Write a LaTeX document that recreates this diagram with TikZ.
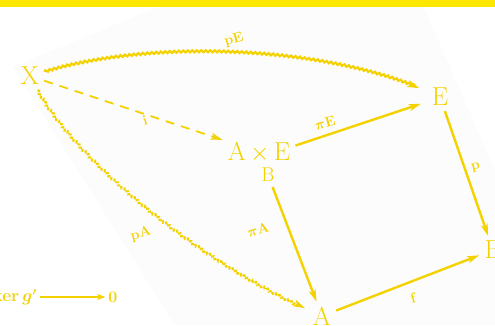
\documentclass[tikz,border=0pt]{standalone}
\usepackage{tikz}
\usetikzlibrary{arrows.meta,decorations.pathmorphing}
\definecolor{PageInk}{HTML}{F4D200}
\definecolor{PageBand}{HTML}{FFE800}
\definecolor{PageShade}{HTML}{FCFCFC}

\begin{document}
\begin{tikzpicture}[x=1pt,y=-1pt,
  obj/.style={PageInk,inner sep=5pt,font=\fontsize{26}{26}\selectfont},
  lbl/.style={PageInk,rotate=15,inner sep=1pt,font=\fontsize{14}{14}\selectfont\bfseries\boldmath},
  map/.style={PageInk,line width=2.4pt,-{Stealth[length=12pt,width=7pt,inset=3pt]}},
  wavy/.style={PageInk,line width=2.2pt,decorate,
    decoration={snake,amplitude=1pt,segment length=4.5pt,post=lineto,post length=12pt},
    -{Stealth[length=12pt,width=7pt,inset=3pt]}}]
  \useasboundingbox (0,0) rectangle (495,325);
  \fill[white] (0,0) rectangle (495,325);
  \fill[PageShade] (13,67) -- (175,0) -- (420,0) -- (495,170) -- (495,325) -- (175,325) -- cycle;
  \fill[PageBand] (0,0) rectangle (495,6.5);

  \node[obj] (X) at (30,76) {X};
  \node[obj] (E) at (440,97) {E};
  \node[obj] (prod) at (259,152) {A\,$\times$\,E};
  \node[obj,font=\fontsize{20}{20}\selectfont] (prodB) at (268,175) {B};
  \node[obj] (A) at (322,316) {A};
  \node[obj] (Bright) at (493,250) {B};

  \draw[wavy,shorten >=8pt] (X) .. controls (150,40) and (320,45) .. (E);
  \draw[wavy,dash pattern=on 3pt off 1.5pt,shorten >=3pt] (X) .. controls (70,150) and (180,250) .. (A);
  \draw[map,line width=1.8pt,dash pattern=on 9pt off 7pt] (X) -- (prod);
  \draw[map,shorten >=6pt] (prod.10) -- (E.200);
  \draw[map] (prodB) -- (A);
  \draw[map] (E) -- (Bright);
  \draw[map] (A) -- (Bright);

  \node[lbl] (lpE) at (234,40) {pE};
  \node[lbl] (li) at (145,120) {i};
  \node[lbl] (lpiE) at (325,123) {$\pi$E};
  \node[lbl] (lp) at (476,168) {p};
  \node[lbl] (lpiA) at (258,230) {$\pi$A};
  \node[lbl] (lpA) at (141,234) {pA};
  \node[lbl] (lf) at (413,298) {f};

  \node[PageInk,anchor=east,inner sep=3pt,font=\fontsize{16}{16}\selectfont\boldmath] (ker) at (40,297) {$\ker g'$};
  \node[PageInk,inner sep=3pt,font=\fontsize{16}{16}\selectfont\bfseries] (zero) at (113,297) {0};
  \draw[PageInk,line width=1.4pt,-{Stealth[length=8pt,width=6pt,inset=2pt]}] (ker) -- (zero);
\end{tikzpicture}
\end{document}
